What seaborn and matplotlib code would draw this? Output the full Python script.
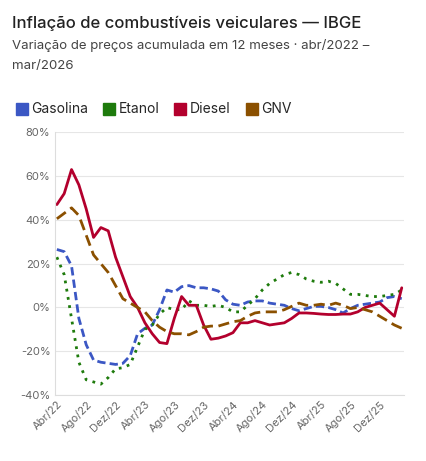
import numpy as np
import pandas as pd
import matplotlib
matplotlib.use('Agg')
import matplotlib.pyplot as plt
import seaborn as sns

meses = pd.date_range('2022-04-01', '2026-03-01', freq='MS')
nomes_mes = ['Jan', 'Fev', 'Mar', 'Abr', 'Mai', 'Jun', 'Jul', 'Ago', 'Set', 'Out', 'Nov', 'Dez']

gasolina = [26.5, 25.5, 19, -5, -17, -24, -25, -25.5, -26, -25.5, -22, -12, -9.5, -8, -1, 8, 7, 9.5, 10, 9,
            9, 8.5, 7.5, 3.5, 1.5, 1, 2.5, 3, 3, 2, 1.5, 1, -0.5, -1.5, -0.5, 0.5, 0.5, 0, -1, -2.5,
            -0.5, 1, 1.5, 2, 2.5, 4.5, 5, 4]
etanol = [23, 15, -5, -25, -33, -34, -35, -32, -28, -27.5, -26, -18, -10, -8, -3, 0, -1, -1, 3, 1,
          1, 0.5, 1, 0, -2, -2, 1, 4, 8, 11, 13, 15, 16, 15, 13, 12, 11.5, 12, 11, 8.5,
          6, 6, 5.5, 5, 5, 5.5, 6, 8]
diesel = [47, 52, 63, 56, 45, 32, 36.5, 35, 23, 14, 5, 0, -7, -12, -16, -16.5, -5, 5, 1, 1,
          -8, -14.5, -14, -13, -11.5, -7, -7, -6, -7, -8, -7.5, -7, -5, -2.5, -2.5, -2.7, -3, -3.2, -3.2, -3,
          -3, -2, 0, 1, 2, -1, -4, 9]
gnv = [40.5, 43, 45.5, 42, 33, 24, 20, 16, 10, 4, 2, 0, -2, -6, -9, -11, -12, -12, -12.5, -11,
       -9, -8.5, -8.5, -7.5, -6.5, -6, -4, -2.5, -2, -2, -2, -1, 0.5, 2, 1, 1, 1.5, 1, 2, 1,
       -0.5, 0, -1, -2, -4, -6, -8, -9.5]

series = {'Gasolina': gasolina, 'Etanol': etanol, 'Diesel': diesel, 'GNV': gnv}
cores = {'Gasolina': '#3b57c4', 'Etanol': '#1e7b0c', 'Diesel': '#b3002d', 'GNV': '#8b5000'}
estilos = {'Gasolina': (0, (3, 1.5)), 'Etanol': (0, (1, 2)), 'Diesel': '-', 'GNV': (0, (4, 2))}

df = pd.DataFrame({'x': np.tile(np.arange(len(meses)), 4),
                   'valor': sum(series.values(), []),
                   'serie': np.repeat(list(series.keys()), len(meses))})

sns.set_style('white')
plt.rcParams['font.family'] = ['Inter', 'DejaVu Sans']

fig = plt.figure(figsize=(4.27, 4.61), dpi=100)
ax = fig.add_axes([0.128, 0.143, 0.818, 0.57])

for nome in series:
    sub = df[df.serie == nome]
    sns.lineplot(data=sub, x='x', y='valor', ax=ax, color=cores[nome], linewidth=2,
                 linestyle=estilos[nome], legend=False)

ax.set_ylim(-40, 80)
ax.set_yticks(range(-40, 81, 20))
ax.set_yticklabels([f'{v}%' for v in range(-40, 81, 20)], fontsize=8, color='#666666')
ax.set_xlim(-0.3, len(meses) - 0.7)
ticks = list(range(0, len(meses), 4))
ax.set_xticks(ticks)
ax.set_xticklabels([f'{nomes_mes[meses[i].month - 1]}/{str(meses[i].year)[2:]}' for i in ticks],
                   rotation=45, ha='right', rotation_mode='anchor', fontsize=8, color='#666666')
ax.set_xlabel('')
ax.set_ylabel('')
ax.grid(axis='y', color='#e6e6e6', linewidth=0.8)
for s in ['top', 'right']:
    ax.spines[s].set_visible(False)
ax.spines['left'].set_color('#dddddd')
ax.spines['bottom'].set_color('#dddddd')
ax.tick_params(length=0, pad=3)

fig.text(0.028, 0.94, 'Inflação de combustíveis veiculares — IBGE', fontsize=12, fontweight='medium', color='#222222')
fig.text(0.028, 0.893, 'Variação de preços acumulada em 12 meses · abr/2022 –', fontsize=9.5, color='#444444')
fig.text(0.028, 0.85, 'mar/2026', fontsize=9.5, color='#444444')

handles = [plt.Line2D([], [], marker='s', linestyle='', markersize=9, color=cores[n]) for n in series]
fig.legend(handles, list(series.keys()), loc='upper left', bbox_to_anchor=(0.005, 0.805), ncol=4,
           frameon=False, fontsize=10, handletextpad=0.2, columnspacing=1.0, handlelength=1.0)

fig.savefig('out.png', dpi=100)
